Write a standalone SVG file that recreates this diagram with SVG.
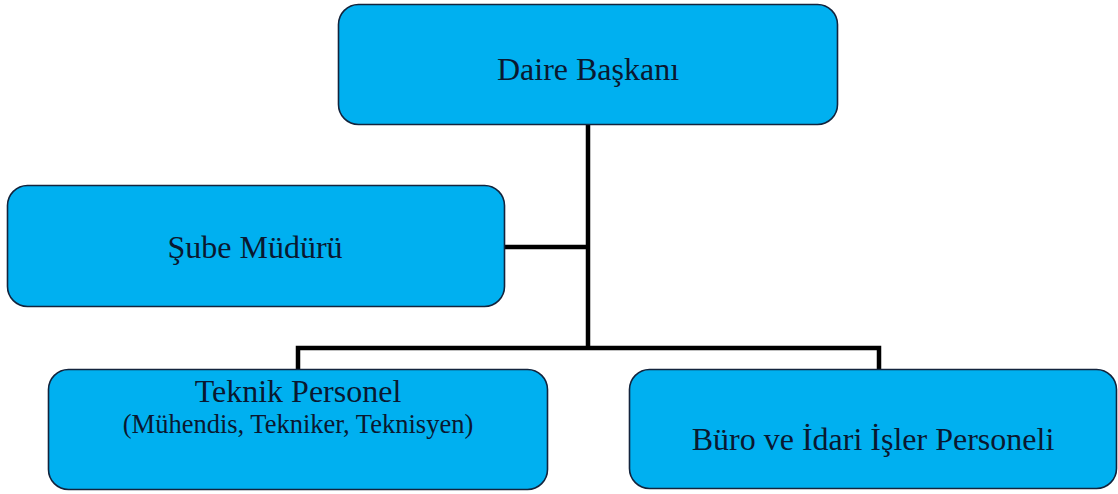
<svg xmlns="http://www.w3.org/2000/svg" width="1118" height="494" viewBox="0 0 1118 494">
<style>
.box{fill:#00B0F0;stroke:#13243d;stroke-width:1.6}
.t{font-family:"Liberation Serif","Times New Roman",serif;fill:#0a1830;text-anchor:middle}
.big{font-size:32px}
.small{font-size:26.5px}
.conn{fill:none;stroke:#000;stroke-width:4.5;stroke-linejoin:miter}
</style>
<rect width="1118" height="494" fill="#ffffff"/>
<g id="connectors">
<path class="conn" d="M588 124 V348"/>
<path class="conn" d="M504 247 H588"/>
<path class="conn" d="M298 369 V348 H879 V369"/>
</g>
<g id="daire-baskani">
<rect class="box" x="338.5" y="4.5" width="499" height="120" rx="20"/>
<text class="t big" x="588" y="80">Daire Başkanı</text>
</g>
<g id="sube-muduru">
<rect class="box" x="7.5" y="185.5" width="497" height="121" rx="20"/>
<text class="t big" x="255" y="258">Şube Müdürü</text>
</g>
<g id="teknik-personel">
<rect class="box" x="48.5" y="369.5" width="499" height="120" rx="20"/>
<text class="t big" x="298" y="402">Teknik Personel</text>
<text class="t small" x="298" y="433">(Mühendis, Tekniker, Teknisyen)</text>
</g>
<g id="buro-idari">
<rect class="box" x="629.5" y="369.5" width="487" height="119" rx="20"/>
<text class="t big" x="873" y="450">Büro ve İdari İşler Personeli</text>
</g>
</svg>
